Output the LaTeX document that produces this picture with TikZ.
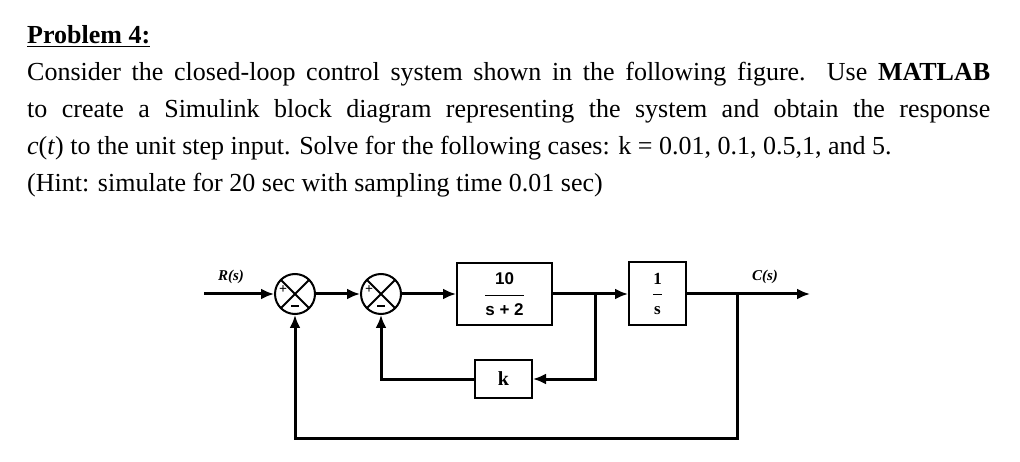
\documentclass[tikz,border=0pt]{standalone}
\usepackage{fontspec}
\usetikzlibrary{arrows.meta}
\setmainfont{Liberation Serif}
\newfontfamily\sfb{Liberation Sans}
\begin{document}
\begin{tikzpicture}[x=1pt,y=-1pt,
  wire/.style={line width=3pt},
  arr/.style={wire,-{Latex[length=13pt,width=11pt]}},
  blk/.style={draw,line width=2pt,inner sep=0pt},
  sumc/.style={draw,circle,line width=2pt,minimum size=40pt,inner sep=0pt,
     path picture={\draw[line width=1.8pt] (path picture bounding box.north west)--(path picture bounding box.south east)
       (path picture bounding box.north east)--(path picture bounding box.south west);}}]
\useasboundingbox (0,0) rectangle (1020,462);
\node[anchor=base west,inner sep=0pt,font=\fontsize{26}{37}\selectfont\bfseries] (title) at (27,44) {\underline{Problem 4:}};
\node[anchor=base west,inner sep=0pt,text width=963pt,align=justify,font=\fontsize{26}{37}\selectfont] (para) at (27,81)
 {Consider the closed-loop control system shown in the following figure. Use \textbf{MATLAB}\linebreak to create a Simulink block diagram representing the system and obtain the response\linebreak \textit{c}(\textit{t}) to the unit step input. Solve for the following cases: k = 0.01, 0.1, 0.5,1, and 5.\\ (Hint: simulate for 20 sec with sampling time 0.01 sec)};
% diagram
\coordinate (in) at (204,294);
\node[sumc] (s1) at (295,294) {};
\node[sumc] (s2) at (381,294) {};
\node[font=\fontsize{14}{14}\selectfont\bfseries] (p1) at (283,290) {+};
\node (m1) at (295,306) {\rule{8pt}{2pt}};
\node[font=\fontsize{14}{14}\selectfont\bfseries] (p2) at (369,290) {+};
\node (m2) at (381,306) {\rule{8pt}{2pt}};
\node[blk,minimum width=95pt,minimum height=62pt] (g1) at (504.5,294) {};
\node[font=\sfb\bfseries\fontsize{17}{17}\selectfont] (g1t) at (504.5,294) {$\displaystyle\frac{\raisebox{3pt}{10}}{\raisebox{-4pt}{s + 2}}$};
\node[blk,minimum width=57pt,minimum height=63pt] (g2) at (657.5,294) {};
\node[font=\bfseries\fontsize{17}{17}\selectfont] (g2t) at (657.5,294) {$\displaystyle\frac{\raisebox{3pt}{\textbf{1}}}{\raisebox{-4pt}{\textbf{s}}}$};
\node[blk,minimum width=57pt,minimum height=38pt,font=\bfseries\fontsize{20}{20}\selectfont] (k) at (503.5,379) {k};
\coordinate (b1) at (595,294);
\coordinate (b2) at (737,294);
\coordinate (out) at (810,294);
\node[font=\bfseries\itshape\fontsize{15}{15}\selectfont] (R) at (231,277) {R(s)};
\node[font=\bfseries\itshape\fontsize{15}{15}\selectfont] (C) at (765,277) {C(s)};
\draw[arr] (in) -- (s1);
\draw[arr] (s1) -- (s2);
\draw[arr] (s2) -- (g1);
\draw[arr] (g1) -- (g2);
\draw[arr] (g2) -- (out);
\draw[arr] (b1) |- (k);
\draw[arr] (k) -| (s2);
\draw[arr] (b2) |- (295,438) -- (s1);
\end{tikzpicture}
\end{document}
